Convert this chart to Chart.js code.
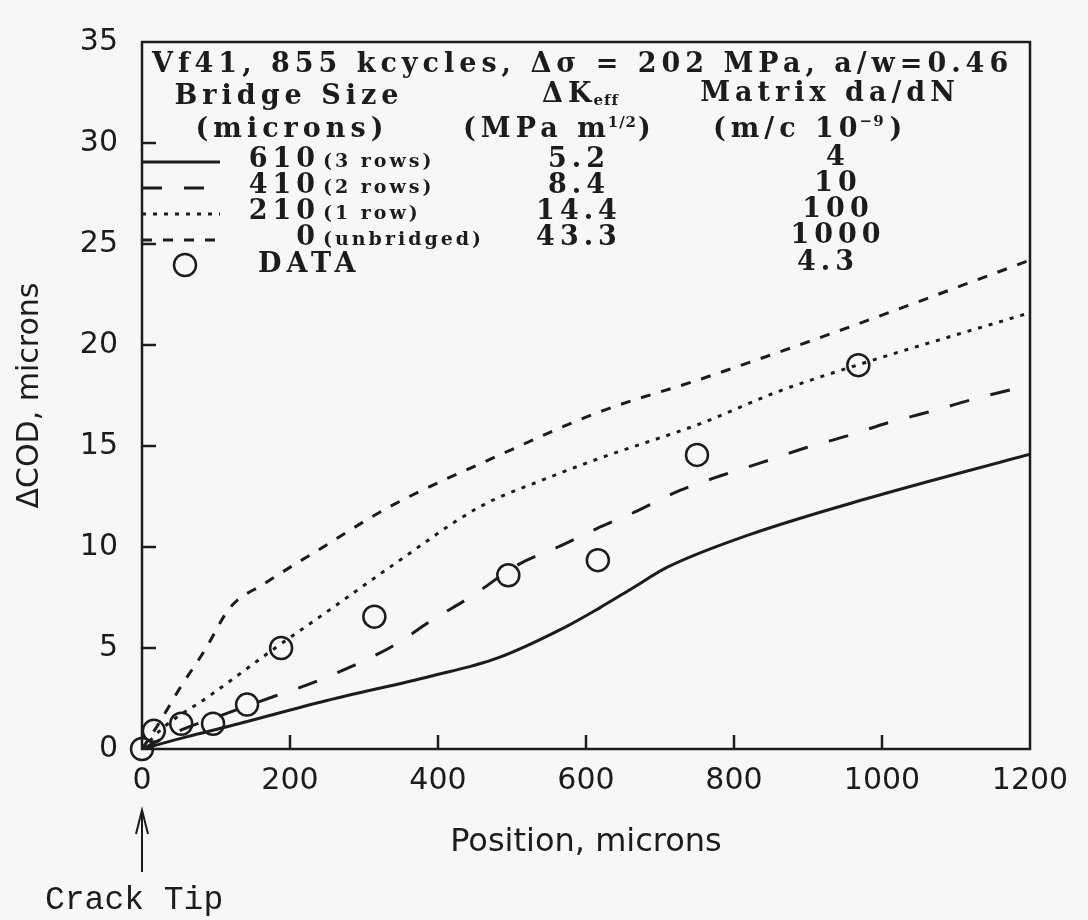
<!DOCTYPE html>
<html lang="en">
<head>
<meta charset="UTF-8">
<title>Delta COD vs position</title>
<script src="https://cdn.jsdelivr.net/npm/chart.js@4.4.0/dist/chart.umd.min.js"></script>
<style>
  html, body { margin: 0; padding: 0; background: #f6f7f6; }
  #wrap { width: 1088px; height: 920px; }
</style>
</head>
<body>
<div id="wrap"><canvas id="chart" width="1088" height="920"></canvas></div>
<script>
// values: position (microns) and delta COD (microns)
const pos610 = [0, 60, 120, 250, 390, 480, 570, 619, 660, 710, 820, 980, 1200];
const cod610 = [0, 0.6, 1.15, 2.4, 3.6, 4.5, 6.0, 7.0, 7.9, 9.0, 10.6, 12.4, 14.6];

const pos410 = [0, 50, 110, 178, 225, 284, 339, 393, 447, 507, 562, 614, 670, 727, 784, 839, 896, 953, 1008, 1065, 1122, 1176, 1200];
const cod410 = [0, 0.9, 1.7, 2.6, 3.2, 4.1, 5.1, 6.4, 7.6, 9.1, 10.0, 10.9, 11.8, 12.8, 13.55, 14.2, 14.9, 15.5, 16.15, 16.7, 17.3, 17.8, 18.0];

const pos210 = [0, 30, 90, 180, 254, 335, 457, 540, 619, 754, 860, 966, 1200];
const cod210 = [0, 1.1, 2.6, 5.0, 6.9, 9.0, 12.0, 13.3, 14.4, 16.1, 17.7, 19.0, 21.6];

const pos0 = [0, 20, 51, 85, 119, 166, 236, 335, 480, 619, 754, 934, 1200];
const cod0 = [0, 1.1, 3.0, 4.9, 7.0, 8.2, 9.8, 12.0, 14.5, 16.7, 18.3, 20.6, 24.2];

const posData = [0, 16, 53, 96, 142, 188, 314, 495, 616, 750, 968];
const codData = [0, 0.9, 1.25, 1.25, 2.2, 5.0, 6.55, 8.6, 9.35, 14.56, 19.0];

// legend table
const bridgeSizes = ['610', '410', '210', '0'];
const bridgeNotes = ['(3 rows)', '(2 rows)', '(1 row)', '(unbridged)'];
const deltaKeff = ['5.2', '8.4', '14.4', '43.3'];
const matrixRate = ['4', '10', '100', '1000'];
const dataRate = '4.3';
const headline = 'Vf41, 855 kcycles, \u0394\u03c3 = 202 MPa, a/w=0.46';

const xTicks = [0, 200, 400, 600, 800, 1000, 1200];
const yTicks = [0, 5, 10, 15, 20, 25, 30, 35];

const ink = '#1c1c1c';
const pair = (xs, ys) => xs.map((v, i) => ({ x: v, y: ys[i] }));

function lineSet(label, xs, ys, dash) {
    return {
        label, data: pair(xs, ys), borderColor: ink, borderWidth: 3, borderDash: dash,
        pointRadius: 0, fill: false, cubicInterpolationMode: 'monotone', borderCapStyle: 'butt'
    };
}

const paperPlugin = {
    id: 'paper',
    beforeDraw(chart) {
        const ctx = chart.ctx;
        ctx.save();
        ctx.fillStyle = '#f6f7f6';
        ctx.fillRect(0, 0, chart.width, chart.height);
        ctx.restore();
    },
    afterDraw(chart) {
        const { ctx, chartArea: a, scales: { x, y } } = chart;
        ctx.save();
        ctx.strokeStyle = ink;
        ctx.fillStyle = ink;
        ctx.lineWidth = 2.5;
        ctx.setLineDash([]);
        ctx.strokeRect(a.left, a.top, a.right - a.left, a.bottom - a.top);

        // ticks point into the plot
        xTicks.slice(1, -1).forEach(v => {
            const px = x.getPixelForValue(v);
            ctx.beginPath(); ctx.moveTo(px, a.bottom); ctx.lineTo(px, a.bottom - 14); ctx.stroke();
        });
        yTicks.slice(1, -1).forEach(v => {
            const py = y.getPixelForValue(v);
            ctx.beginPath(); ctx.moveTo(a.left, py); ctx.lineTo(a.left + 14, py); ctx.stroke();
        });

        // legend table in the upper left
        ctx.textBaseline = 'middle';
        const txt = (s, tx, ty, size, align, spacing) => {
            ctx.font = 'bold ' + size + 'px "DejaVu Serif"';
            ctx.letterSpacing = (spacing === undefined ? 5 : spacing) + 'px';
            ctx.textAlign = align || 'left';
            ctx.fillText(s, tx, ty);
            return ctx.measureText(s).width;
        };
        const L = a.left, T = a.top;
        txt(headline, L + 10, T + 23, 27);
        txt('Bridge Size', L + 147, T + 55, 27, 'center');
        txt('(microns)', L + 150, T + 88, 27, 'center');

        let w = txt('\u0394K', L + 400, T + 53, 27);
        txt('eff', L + 400 + w - 3, T + 59, 15, 'left', 1);
        w = txt('(MPa m', L + 321, T + 88, 27);
        let w2 = txt('1/2', L + 321 + w - 3, T + 81, 15, 'left', 1);
        txt(')', L + 321 + w + w2 - 2, T + 88, 27);

        txt('Matrix da/dN', L + 688, T + 52, 27, 'center');
        w = txt('(m/c 10', L + 571, T + 88, 27);
        w2 = txt('\u22129', L + 571 + w - 3, T + 80, 15, 'left', 1);
        txt(')', L + 571 + w + w2 + 2, T + 88, 27);

        const rows = [T + 118, T + 144, T + 170, T + 196];
        const lines = chart.data.datasets.slice(0, 4);
        rows.forEach((ry, i) => {
            ctx.lineWidth = 3;
            ctx.setLineDash(lines[i].borderDash || []);
            ctx.beginPath(); ctx.moveTo(L, ry + 2); ctx.lineTo(L + 78, ry + 2); ctx.stroke();
            ctx.setLineDash([]);
            txt(bridgeSizes[i], L + 178, ry, 27, 'right');
            txt(bridgeNotes[i], L + 181, ry + 2, 19, 'left', 3);
            txt(deltaKeff[i], L + 437, ry, 27, 'center');
            txt(matrixRate[i], L + 696, ry - 2, 27, 'center');
        });
        const dy = T + 223;
        ctx.lineWidth = 2.5;
        ctx.beginPath(); ctx.arc(L + 43, dy, 11, 0, Math.PI * 2); ctx.stroke();
        txt('DATA', L + 116, dy, 27);
        txt(dataRate, L + 686, dy - 2, 27, 'center');

        // crack tip marker under x = 0
        const x0 = x.getPixelForValue(0);
        ctx.lineWidth = 2;
        ctx.beginPath(); ctx.moveTo(x0, 872); ctx.lineTo(x0, 812); ctx.stroke();
        ctx.beginPath(); ctx.moveTo(x0 - 6, 834); ctx.lineTo(x0, 810); ctx.lineTo(x0 + 6, 834); ctx.stroke();
        ctx.font = '33px "Liberation Mono"';
        ctx.letterSpacing = '0px';
        ctx.textAlign = 'left';
        ctx.fillText('Crack Tip', 45, 900);
        ctx.restore();
    }
};

new Chart(document.getElementById('chart'), {
    type: 'line',
    data: {
        datasets: [
            lineSet('610 (3 rows)', pos610, cod610, []),
            lineSet('410 (2 rows)', pos410, cod410, [20, 22]),
            lineSet('210 (1 row)', pos210, cod210, [4, 7]),
            lineSet('0 (unbridged)', pos0, cod0, [10, 11]),
            {
                label: 'DATA', data: pair(posData, codData), showLine: false, clip: false,
                pointRadius: 11, pointBorderWidth: 2.5, pointBorderColor: ink,
                pointBackgroundColor: 'rgba(0,0,0,0)', borderColor: ink, backgroundColor: 'rgba(0,0,0,0)'
            }
        ]
    },
    options: {
        responsive: false,
        devicePixelRatio: 1,
        animation: false,
        layout: { padding: { top: 23, right: 58, left: 0, bottom: 0 } },
        plugins: { legend: { display: false }, tooltip: { enabled: false } },
        scales: {
            x: {
                type: 'linear', min: 0, max: 1200,
                afterBuildTicks: s => { s.ticks = xTicks.map(v => ({ value: v })); },
                afterFit: s => { s.height = 171; },
                ticks: { color: ink, padding: 14, font: { family: 'DejaVu Sans', size: 30 }, callback: v => String(v) },
                grid: { display: false, drawTicks: false },
                border: { display: false },
                title: {
                    display: true, text: 'Position, microns', color: ink,
                    font: { family: 'DejaVu Sans', size: 32 }, padding: { top: 0, bottom: 58 }
                }
            },
            y: {
                type: 'linear', min: 0, max: 35,
                afterBuildTicks: s => { s.ticks = yTicks.map(v => ({ value: v })); },
                afterFit: s => { s.width = 142; },
                ticks: { color: ink, padding: 24, font: { family: 'DejaVu Sans', size: 30 }, callback: v => String(v) },
                grid: { display: false, drawTicks: false },
                border: { display: false },
                title: {
                    display: true, text: '\u0394COD, microns', color: ink,
                    font: { family: 'DejaVu Sans', size: 30 }, padding: { top: 12, bottom: 0 }
                }
            }
        }
    },
    plugins: [paperPlugin]
});
</script>
</body>
</html>
